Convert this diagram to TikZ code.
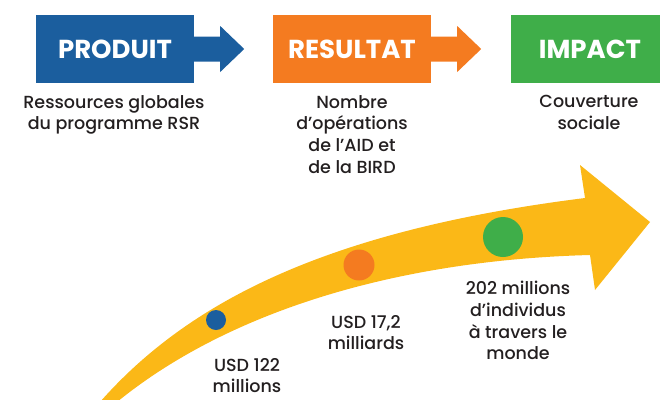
\documentclass[tikz,border=0pt]{standalone}
\usepackage{fontspec}
\setmainfont{Poppins}
\newfontfamily\medfont{Poppins Medium}

\definecolor{rsrblue}{HTML}{1B5E9E}
\definecolor{rsrorange}{HTML}{F47B20}
\definecolor{rsrgreen}{HTML}{3FAE49}
\definecolor{rsryellow}{HTML}{FBB817}
\definecolor{rsrtext}{HTML}{231F20}

\begin{document}
\begin{tikzpicture}[x=1pt, y=-1pt,
	box/.style={minimum width=158pt, minimum height=68pt, inner sep=0pt, text=white, font=\fontsize{26}{26}\selectfont\bfseries},
	txt/.style={align=center, inner sep=0pt, anchor=north, text=rsrtext, font=\medfont\fontsize{17.5}{21.7}\selectfont},
	dot/.style={circle, inner sep=0pt}]

	\useasboundingbox (0,0) rectangle (660,399);
	\clip (0,0) rectangle (660,399);

	% les trois cases
	\node[box, fill=rsrblue] (produit) at (115,49) {PRODUIT};
	\node[box, fill=rsrorange] (resultat) at (352,49) {RESULTAT};
	\node[box, fill=rsrgreen] (impact) at (590,49) {IMPACT};

	\fill[rsrblue] (produit.east) ++(0,-12.5) -- ++(26,0) -- ++(0,-10.5) -- ++(24,23) -- ++(-24,23) -- ++(0,-10.5) -- ++(-26,0) -- cycle;
	\fill[rsrorange] (resultat.east) ++(0,-12.5) -- ++(26,0) -- ++(0,-10.5) -- ++(24,23) -- ++(-24,23) -- ++(0,-10.5) -- ++(-26,0) -- cycle;

	\node[txt] (ressources) at (114,95) {Ressources globales\\du programme RSR};
	\node[txt] (nombre) at (352,95) {Nombre\\d’opérations\\de l’AID et\\de la BIRD};
	\node[txt] (couverture) at (589,95) {Couverture\\sociale};

	% la grande fleche
	\fill[rsryellow] (100,402) .. controls (190,300) and (330,230) .. (585,198)
		-- (580,165) -- (650,222) -- (595,290) -- (590,255)
		.. controls (400,260) and (230,310) .. (117,402) -- cycle;

	\node[dot, fill=rsrblue, minimum size=20pt] (usd1) at (216,320) {};
	\node[dot, fill=rsrorange, minimum size=31pt] (usd2) at (359,265) {};
	\node[dot, fill=rsrgreen, minimum size=40pt] (pers) at (503,237) {};

	\node[txt, font=\medfont\fontsize{17.5}{21}\selectfont] (millions) at (247,358) {USD 122\\millions};
	\node[txt] (milliards) at (366,315) {USD 17,2\\milliards};
	\node[txt] (individus) at (518,281) {202 millions\\d’individus\\à travers le\\monde};

\end{tikzpicture}
\end{document}
